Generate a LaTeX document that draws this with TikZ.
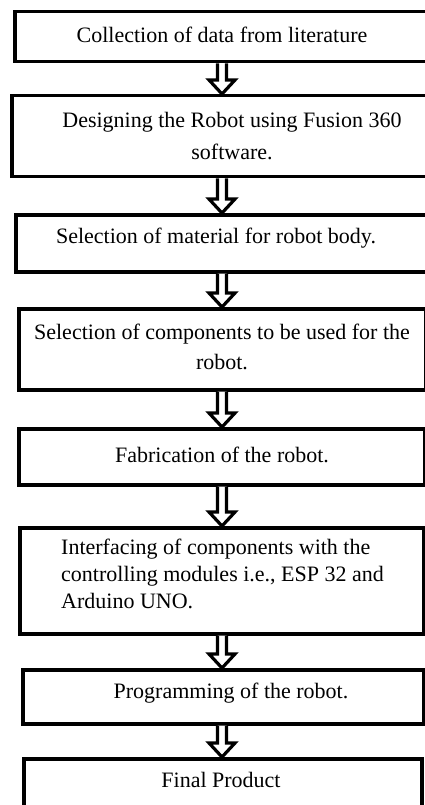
\documentclass[tikz,border=0pt]{standalone}
\usepackage{fontspec}
\setmainfont{Liberation Serif}
\usetikzlibrary{calc}
\newcommand\hollowarrow[2]{%
  \draw[harrow] ($(ax |- #1.south)+(-4.5,0)$) -- ($(ax |- #2.north)+(-4.5,-14)$)
    -- ($(ax |- #2.north)+(-13,-14)$) -- (ax |- #2.north)
    -- ($(ax |- #2.north)+(13,-14)$) -- ($(ax |- #2.north)+(4.5,-14)$)
    -- ($(ax |- #1.south)+(4.5,0)$);}
\begin{document}
\begin{tikzpicture}[x=1pt,y=-1pt,
  box/.style={draw=black,line width=3.5pt,inner sep=0pt,anchor=north west},
  lbl/.style={font=\fontsize{22}{22}\selectfont,inner sep=0pt,align=center},
  harrow/.style={draw=black,line width=3.2pt,fill=white,line join=miter}]
\useasboundingbox (0,0) rectangle (425,805);
\fill[white] (0,0) rectangle (425,805);
\coordinate (ax) at (222,0);
% boxes
\node[box,minimum width=420pt,minimum height=50pt] (b1) at (13,10) {};
\node[box,minimum width=422pt,minimum height=81pt] (b2) at (10,94) {};
\node[box,minimum width=418pt,minimum height=57pt] (b3) at (14,213) {};
\node[box,minimum width=407pt,minimum height=81pt] (b4) at (17,307) {};
\node[box,minimum width=406pt,minimum height=56pt] (b5) at (17,427) {};
\node[box,minimum width=404pt,minimum height=106pt] (b6) at (18,526) {};
\node[box,minimum width=401pt,minimum height=54pt] (b7) at (21,668) {};
\node[box,minimum width=398pt,minimum height=80pt] (b8) at (22,757) {};
% arrows
\hollowarrow{b1}{b2}
\hollowarrow{b2}{b3}
\hollowarrow{b3}{b4}
\hollowarrow{b4}{b5}
\hollowarrow{b5}{b6}
\hollowarrow{b6}{b7}
\hollowarrow{b7}{b8}
% labels
\node[lbl] (t1) at (222,35) {Collection of data from literature};
\node[lbl,font=\fontsize{22}{32}\selectfont] (t2) at (232,136) {Designing the Robot using Fusion 360\\software.};
\node[lbl] (t3) at (216,238) {Selection of material for robot body.};
\node[lbl,font=\fontsize{22}{30}\selectfont] (t4) at (222,347) {Selection of components to be used for the\\robot.};
\node[lbl] (t5) at (222,455) {Fabrication of the robot.};
\node[lbl,font=\fontsize{22}{27}\selectfont,align=left,anchor=west] (t6) at (61,574) {Interfacing of components with the\\controlling modules i.e., ESP 32 and\\Arduino UNO.};
\node[lbl] (t7) at (231,693) {Programming of the robot.};
\node[lbl] (t8) at (221,780) {Final Product};
\end{tikzpicture}
\end{document}
